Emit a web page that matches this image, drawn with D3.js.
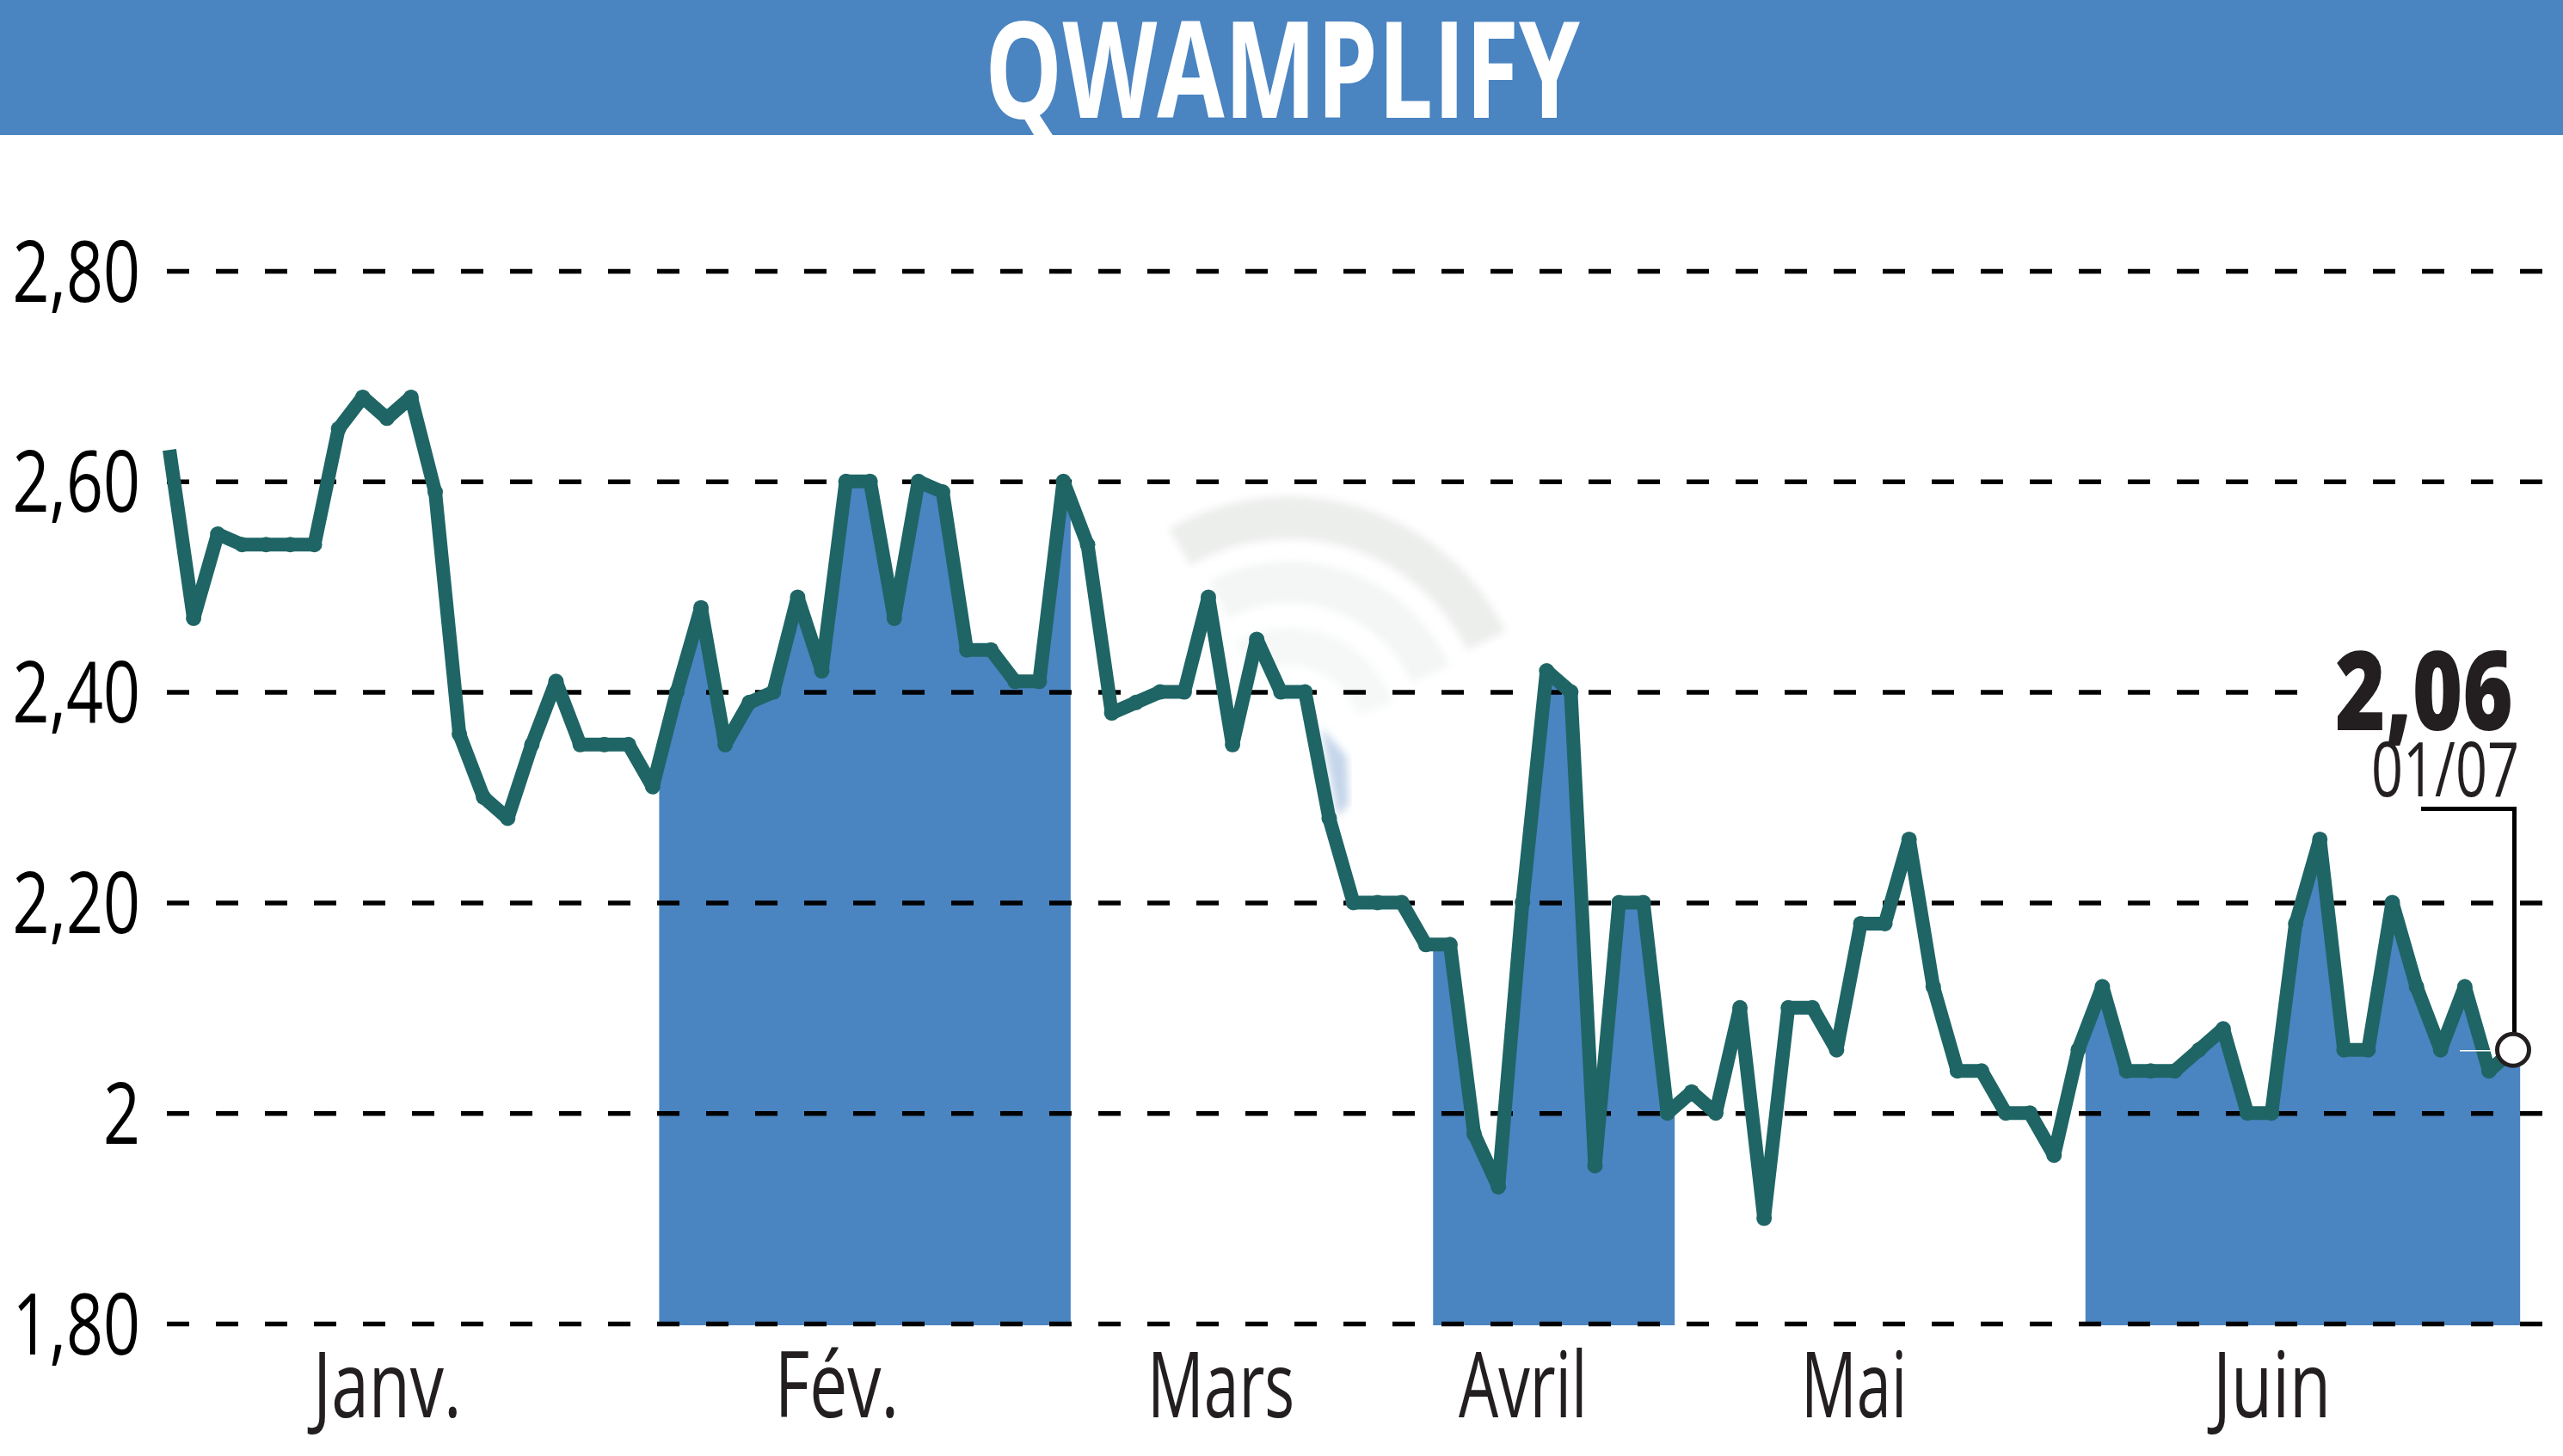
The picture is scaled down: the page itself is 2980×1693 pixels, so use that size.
<!DOCTYPE html>
<html>
<head>
<meta charset="utf-8">
<title>QWAMPLIFY</title>
<script src="https://d3js.org/d3.v7.min.js"></script>
<style>
html, body { margin: 0; padding: 0; background: #fff; }
svg { display: block; }
text { font-family: "Open Sans", "Noto Sans", sans-serif; fill: #231f20; }
</style>
</head>
<body>
<div id="chart"></div>
<script>
var title = "QWAMPLIFY";
var lastValue = "2,06", lastDate = "01/07";

var prices = [
	2.63, 2.47, 2.55, 2.54, 2.54, 2.54, 2.54, 2.65, 2.68, 2.66,
	2.68, 2.59, 2.36, 2.30, 2.28, 2.35, 2.41, 2.35, 2.35, 2.35,
	2.31, 2.40, 2.48, 2.35, 2.39, 2.40, 2.49, 2.42, 2.60, 2.60,
	2.47, 2.60, 2.59, 2.44, 2.44, 2.41, 2.41, 2.60, 2.54, 2.38,
	2.39, 2.40, 2.40, 2.49, 2.35, 2.45, 2.40, 2.40, 2.28, 2.20,
	2.20, 2.20, 2.16, 2.16, 1.98, 1.93, 2.20, 2.42, 2.40, 1.95,
	2.20, 2.20, 2.00, 2.02, 2.00, 2.10, 1.90, 2.10, 2.10, 2.06,
	2.18, 2.18, 2.26, 2.12, 2.04, 2.04, 2.00, 2.00, 1.96, 2.06,
	2.12, 2.04, 2.04, 2.04, 2.06, 2.08, 2.00, 2.00, 2.18, 2.26,
	2.06, 2.06, 2.20, 2.12, 2.06, 2.12, 2.04, 2.06
];
var yTicks = [1.8, 2, 2.2, 2.4, 2.6, 2.8];
var months = ["Janv.", "Fév.", "Mars", "Avril", "Mai", "Juin"];
var monthCentres = [9, 27.6, 43.5, 56, 69.7, 87];
// shaded months, in units of the price index
var bandStarts = [20.27, 52.3, 79.3];
var bandEnds = [37.3, 62.3, 97.3];

var width = 2980, height = 1693;
var blue = "#4a84c1", green = "#1f6565", dark = "#231f20";

var x = d3.scaleLinear().domain([0, prices.length - 1]).range([197, 2922]);
var y = d3.scaleLinear().domain([1.8, 2.8]).range([1539, 315]);

var svg = d3.select("#chart").append("svg")
	.attr("width", width)
	.attr("height", height);

// squeeze a label to imitate the condensed face of the original
function squeeze(sel, factor) {
	sel.each(function(d, i) {
		var f = typeof factor === "function" ? factor(i) : factor;
		d3.select(this).attr("textLength", this.getComputedTextLength() * f)
			.attr("lengthAdjust", "spacingAndGlyphs");
	});
}

function drawHeader() {
	svg.append("rect")
		.attr("width", width)
		.attr("height", 157)
		.attr("fill", blue);
	svg.append("text")
		.attr("x", 1491)
		.attr("y", 137)
		.attr("text-anchor", "middle")
		.attr("font-size", 157)
		.attr("font-weight", 700)
		.style("fill", "#fff")
		.text(title)
		.attr("textLength", 692)
		.attr("lengthAdjust", "spacingAndGlyphs");
}

function drawWatermark() {
	var rings = [
		{r: 255, w: 50, a0: -30, a1: 64, c: "#eceeec"},
		{r: 180, w: 48, a0: -27, a1: 66, c: "#f3f6f4"},
		{r: 105, w: 45, a0: -30, a1: 72, c: "#f6f8f8"}
	];
	var arc = d3.arc();
	var defs = svg.append("defs");
	defs.append("filter").attr("id", "soft")
		.append("feGaussianBlur").attr("stdDeviation", 5);
	var g = svg.append("g")
		.attr("transform", "translate(1499,857)")
		.attr("filter", "url(#soft)");
	g.selectAll("path")
		.data(rings)
		.enter().append("path")
		.attr("fill", function(d) { return d.c; })
		.attr("d", function(d) {
			return arc({
				innerRadius: d.r - d.w / 2,
				outerRadius: d.r + d.w / 2,
				startAngle: d.a0 * Math.PI / 180,
				endAngle: d.a1 * Math.PI / 180
			});
		});
	svg.append("path")
		.attr("d", "M1536,845L1566,880L1568,935L1555,950Z")
		.attr("fill", "#c5d5ea")
		.attr("filter", "url(#soft)");
}

function drawBands() {
	var points = prices.map(function(v, i) { return [i, v]; });
	points.push([d3.max(bandEnds), prices[prices.length - 1]]);

	var area = d3.area()
		.x(function(d) { return x(d[0]); })
		.y0(y(1.8) + 2)
		.y1(function(d) { return y(d[1]); });

	var clip = svg.append("clipPath").attr("id", "bands");
	clip.selectAll("rect")
		.data(bandStarts)
		.enter().append("rect")
		.attr("x", function(d) { return x(d); })
		.attr("width", function(d, i) { return x(bandEnds[i]) - x(d); })
		.attr("y", 0)
		.attr("height", height);

	svg.append("path")
		.datum(points)
		.attr("clip-path", "url(#bands)")
		.attr("fill", blue)
		.attr("d", area);
}

function drawAxes() {
	var yAxis = d3.axisLeft(y)
		.tickValues(yTicks)
		.tickSize(-(width - 194))
		.tickPadding(31)
		.tickFormat(function(d) {
			return d === 2 ? "2" : d3.format(".2f")(d).replace(".", ",");
		});

	var gy = svg.append("g")
		.attr("transform", "translate(194,0)")
		.call(yAxis);
	gy.select(".domain").remove();
	gy.selectAll("line")
		.attr("stroke", "#000")
		.attr("stroke-width", 5.5)
		.attr("stroke-dasharray", "26 31");
	gy.selectAll("text")
		.attr("dy", 35)
		.attr("font-size", 99)
		.style("fill", "#000")
		.call(squeeze, 0.76);

	var xAxis = d3.axisBottom(x)
		.tickValues(monthCentres)
		.tickSize(0)
		.tickFormat(function(d, i) { return months[i]; });

	var gx = svg.append("g")
		.attr("transform", "translate(0,1539)")
		.call(xAxis);
	gx.select(".domain").remove();
	var xSqueeze = [0.74, 0.74, 0.69, 0.69, 0.68, 0.74];
	gx.selectAll("text")
		.attr("y", 109)
		.attr("dy", 0)
		.attr("font-size", 106)
		.call(squeeze, function(i) { return xSqueeze[i]; });
}

function drawLine() {
	var line = d3.line()
		.x(function(d, i) { return x(i); })
		.y(function(d) { return y(d); });

	svg.append("path")
		.datum(prices)
		.attr("fill", "none")
		.attr("stroke", green)
		.attr("stroke-width", 16)
		.attr("stroke-linejoin", "bevel")
		.attr("d", line);

	svg.append("g").selectAll("circle")
		.data(prices.slice(1, -1))
		.enter().append("circle")
		.attr("cx", function(d, i) { return x(i + 1); })
		.attr("cy", function(d) { return y(d); })
		.attr("r", 9)
		.attr("fill", green);
}

function drawLastValue() {
	var last = prices.length - 1,
		cx = x(last),
		cy = y(prices[last]);

	svg.append("rect")
		.attr("x", 2700)
		.attr("y", 780)
		.attr("width", 263)
		.attr("height", 50)
		.attr("fill", "#fff");

	svg.append("path")
		.attr("d", "M2815,940.5H" + (cx + 1.5) + "V" + (cy - 18))
		.attr("fill", "none")
		.attr("stroke", "#000")
		.attr("stroke-width", 5);

	svg.append("line")
		.attr("x1", 2860)
		.attr("x2", cx - 18)
		.attr("y1", cy + 1)
		.attr("y2", cy + 1)
		.attr("stroke", "#fff")
		.attr("stroke-width", 1.5);

	svg.append("circle")
		.attr("cx", cx)
		.attr("cy", cy)
		.attr("r", 18.5)
		.attr("fill", "#fff")
		.attr("stroke", dark)
		.attr("stroke-width", 5);

	svg.append("text")
		.attr("x", 2922)
		.attr("y", 849)
		.attr("text-anchor", "end")
		.attr("font-size", 128)
		.attr("font-weight", 800)
		.text(lastValue)
		.attr("textLength", 207)
		.attr("lengthAdjust", "spacingAndGlyphs");

	svg.append("text")
		.attr("x", 2929)
		.attr("y", 926)
		.attr("text-anchor", "end")
		.attr("font-size", 88)
		.text(lastDate)
		.attr("textLength", 172)
		.attr("lengthAdjust", "spacingAndGlyphs");
}

drawHeader();
drawWatermark();
drawBands();
drawAxes();
drawLine();
drawLastValue();
</script>
</body>
</html>
